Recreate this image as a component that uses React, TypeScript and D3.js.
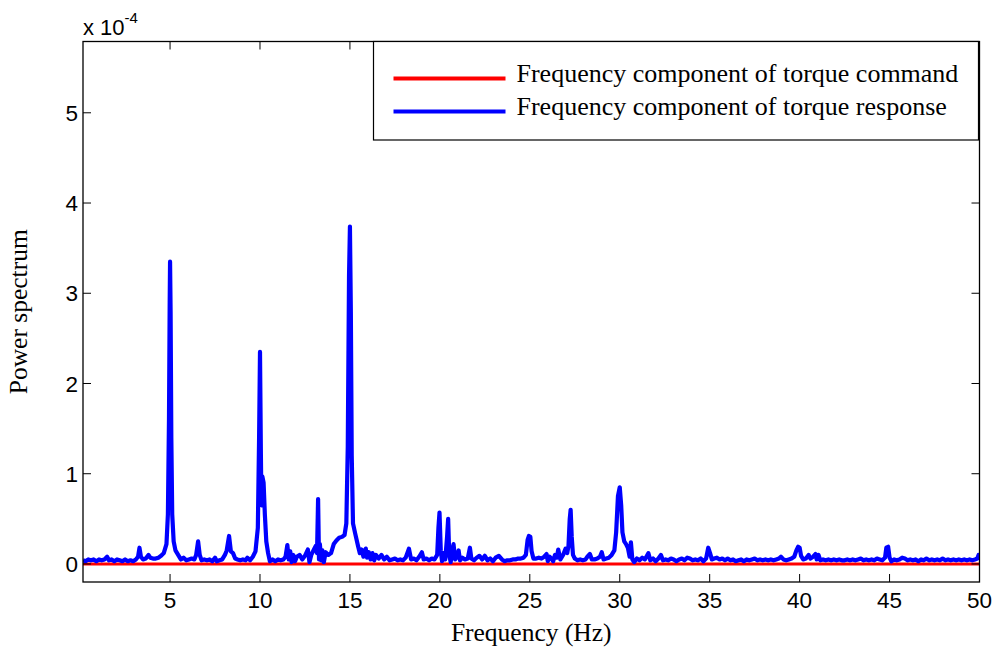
import React from "react";
import * as d3 from "d3";

// Frequency axis (Hz) and power spectrum (units of 1e-4)
const responseFreq: number[] = [
  0.16, 0.3, 0.45, 0.6, 0.75, 0.9, 1.05, 1.2, 1.35, 1.5, 1.6, 1.75, 1.9, 2.05, 2.2, 2.35, 2.5, 2.65, 2.8, 2.95,
  3.1, 3.22, 3.3, 3.38, 3.5, 3.65, 3.8, 3.9, 4.05, 4.2, 4.35, 4.5, 4.65, 4.8, 4.88, 4.94, 4.98, 5.0, 5.03, 5.07,
  5.12, 5.2, 5.3, 5.45, 5.6, 5.75, 5.9, 6.05, 6.2, 6.35, 6.45, 6.56, 6.65, 6.75, 6.9, 7.05, 7.2, 7.35, 7.5, 7.6,
  7.75, 7.9, 8.05, 8.15, 8.28, 8.38, 8.5, 8.62, 8.75, 8.9, 9.05, 9.2, 9.3, 9.45, 9.6, 9.75, 9.88, 9.95, 10.0, 10.05,
  10.08, 10.13, 10.2, 10.27, 10.35, 10.45, 10.55, 10.7, 10.85, 11.0, 11.15, 11.3, 11.42, 11.52, 11.6, 11.68, 11.76, 11.85, 11.95, 12.05,
  12.2, 12.35, 12.5, 12.66, 12.75, 12.85, 13.0, 13.1, 13.17, 13.23, 13.28, 13.33, 13.4, 13.47, 13.55, 13.65, 13.8, 13.95, 14.1, 14.25,
  14.4, 14.55, 14.7, 14.8, 14.88, 14.95, 15.0, 15.05, 15.1, 15.17, 15.3, 15.45, 15.55, 15.65, 15.75, 15.88, 15.95, 16.05, 16.15, 16.25,
  16.35, 16.45, 16.6, 16.75, 16.9, 17.05, 17.2, 17.35, 17.5, 17.65, 17.8, 17.95, 18.1, 18.28, 18.4, 18.55, 18.7, 18.85, 19.0, 19.1,
  19.25, 19.4, 19.55, 19.7, 19.85, 19.92, 19.98, 20.05, 20.12, 20.2, 20.3, 20.4, 20.46, 20.52, 20.6, 20.68, 20.76, 20.85, 20.95, 21.04,
  21.12, 21.25, 21.4, 21.55, 21.67, 21.75, 21.9, 22.05, 22.2, 22.35, 22.5, 22.65, 22.8, 22.95, 23.1, 23.28, 23.45, 23.6, 23.75, 23.9,
  24.05, 24.2, 24.35, 24.5, 24.65, 24.78, 24.88, 24.95, 25.03, 25.1, 25.2, 25.35, 25.5, 25.65, 25.8, 25.93, 26.0, 26.1, 26.2, 26.3,
  26.4, 26.5, 26.58, 26.7, 26.85, 26.99, 27.08, 27.15, 27.22, 27.27, 27.33, 27.4, 27.5, 27.65, 27.8, 27.95, 28.1, 28.2, 28.34, 28.45,
  28.6, 28.75, 28.9, 29.0, 29.1, 29.25, 29.4, 29.55, 29.7, 29.8, 29.9, 30.0, 30.08, 30.15, 30.25, 30.35, 30.45, 30.55, 30.62, 30.7,
  30.8, 30.95, 31.1, 31.25, 31.4, 31.59, 31.7, 31.85, 32.0, 32.15, 32.29, 32.4, 32.55, 32.7, 32.85, 33.0, 33.15, 33.3, 33.45, 33.6,
  33.75, 33.9, 34.05, 34.2, 34.35, 34.5, 34.65, 34.8, 34.92, 35.02, 35.12, 35.25, 35.4, 35.55, 35.7, 35.85, 36.0, 36.15, 36.3, 36.45,
  36.6, 36.75, 36.9, 37.05, 37.2, 37.35, 37.5, 37.65, 37.8, 37.95, 38.1, 38.25, 38.4, 38.55, 38.7, 38.85, 38.96, 39.1, 39.25, 39.4,
  39.55, 39.7, 39.82, 39.92, 40.0, 40.08, 40.2, 40.35, 40.5, 40.6, 40.75, 40.88, 40.95, 41.05, 41.15, 41.3, 41.45, 41.6, 41.75, 41.9,
  42.05, 42.2, 42.35, 42.5, 42.65, 42.8, 42.95, 43.1, 43.25, 43.4, 43.55, 43.7, 43.85, 44.0, 44.15, 44.3, 44.45, 44.6, 44.75, 44.82,
  44.92, 45.0, 45.1, 45.25, 45.4, 45.55, 45.7, 45.85, 46.0, 46.15, 46.3, 46.45, 46.6, 46.75, 46.9, 47.05, 47.2, 47.35, 47.5, 47.65,
  47.8, 47.95, 48.1, 48.25, 48.4, 48.55, 48.7, 48.85, 49.0, 49.15, 49.3, 49.45, 49.6, 49.75, 49.88, 49.95, 50.0,
];

const responsePower: number[] = [
  0.04, 0.03, 0.05, 0.04, 0.05, 0.03, 0.05, 0.04, 0.05, 0.08, 0.04, 0.05, 0.03, 0.05, 0.04, 0.03, 0.05, 0.03, 0.04, 0.03,
  0.05, 0.08, 0.18, 0.08, 0.05, 0.06, 0.1, 0.07, 0.06, 0.06, 0.07, 0.09, 0.12, 0.22, 0.55, 1.6, 2.9, 3.35, 2.8, 1.4,
  0.55, 0.25, 0.15, 0.1, 0.05, 0.07, 0.04, 0.05, 0.06, 0.05, 0.1, 0.25, 0.1, 0.04, 0.05, 0.04, 0.05, 0.03, 0.07, 0.03,
  0.04, 0.05, 0.1, 0.15, 0.31, 0.14, 0.12, 0.06, 0.05, 0.04, 0.05, 0.04, 0.07, 0.04, 0.08, 0.14, 0.4, 1.4, 2.35, 1.2,
  0.65, 0.97, 0.9, 0.55, 0.25, 0.12, 0.03, 0.05, 0.03, 0.05, 0.04, 0.05, 0.08, 0.21, 0.05, 0.14, 0.02, 0.1, 0.03, 0.08,
  0.1, 0.05, 0.09, 0.16, 0.02, 0.1, 0.16, 0.2, 0.12, 0.72, 0.05, 0.22, 0.04, 0.15, 0.02, 0.13, 0.1, 0.12, 0.22, 0.26,
  0.29, 0.3, 0.32, 0.45, 1.3, 3.2, 3.74, 2.8, 1.2, 0.45, 0.33, 0.2, 0.12, 0.16, 0.08, 0.17, 0.07, 0.13, 0.05, 0.12,
  0.04, 0.1, 0.06, 0.1, 0.05, 0.08, 0.04, 0.05, 0.06, 0.04, 0.05, 0.04, 0.07, 0.17, 0.05, 0.06, 0.04, 0.08, 0.13, 0.05,
  0.06, 0.04, 0.06, 0.05, 0.1, 0.4, 0.57, 0.15, 0.03, 0.12, 0.05, 0.3, 0.5, 0.1, 0.02, 0.15, 0.22, 0.05, 0.08, 0.15,
  0.04, 0.07, 0.05, 0.06, 0.18, 0.06, 0.04, 0.07, 0.09, 0.05, 0.09, 0.04, 0.06, 0.03, 0.07, 0.09, 0.05, 0.03, 0.04, 0.04,
  0.05, 0.05, 0.06, 0.06, 0.07, 0.1, 0.27, 0.31, 0.3, 0.14, 0.06, 0.06, 0.07, 0.06, 0.08, 0.11, 0.03, 0.08, 0.06, 0.03,
  0.1, 0.07, 0.16, 0.05, 0.1, 0.17, 0.12, 0.2, 0.5, 0.6, 0.3, 0.1, 0.06, 0.04, 0.05, 0.04, 0.05, 0.08, 0.11, 0.05,
  0.05, 0.06, 0.08, 0.13, 0.05, 0.06, 0.07, 0.1, 0.15, 0.35, 0.75, 0.85, 0.65, 0.35, 0.25, 0.22, 0.18, 0.08, 0.24, 0.05,
  0.02, 0.06, 0.04, 0.07, 0.05, 0.12, 0.04, 0.06, 0.03, 0.06, 0.1, 0.04, 0.05, 0.04, 0.06, 0.05, 0.03, 0.05, 0.06, 0.04,
  0.07, 0.06, 0.04, 0.05, 0.04, 0.06, 0.03, 0.06, 0.18, 0.12, 0.05, 0.06, 0.07, 0.05, 0.06, 0.04, 0.06, 0.04, 0.05, 0.03,
  0.04, 0.05, 0.03, 0.05, 0.04, 0.05, 0.06, 0.04, 0.05, 0.04, 0.05, 0.04, 0.05, 0.04, 0.05, 0.06, 0.08, 0.05, 0.04, 0.05,
  0.06, 0.08, 0.15, 0.19, 0.18, 0.09, 0.05, 0.06, 0.1, 0.06, 0.08, 0.11, 0.05, 0.1, 0.04, 0.05, 0.04, 0.05, 0.04, 0.05,
  0.04, 0.05, 0.04, 0.04, 0.05, 0.04, 0.05, 0.04, 0.05, 0.06, 0.04, 0.05, 0.04, 0.05, 0.04, 0.06, 0.05, 0.04, 0.07, 0.18,
  0.19, 0.07, 0.03, 0.05, 0.04, 0.05, 0.07, 0.06, 0.04, 0.05, 0.04, 0.05, 0.03, 0.05, 0.04, 0.06, 0.04, 0.05, 0.04, 0.05,
  0.04, 0.06, 0.04, 0.05, 0.04, 0.05, 0.04, 0.05, 0.04, 0.05, 0.04, 0.05, 0.04, 0.05, 0.06, 0.1, 0.08,
];

const commandFreq: number[] = [0.16, 50];
const commandPower: number[] = [0, 0];

const xTicks: number[] = [5, 10, 15, 20, 25, 30, 35, 40, 45, 50];
const yTicks: number[] = [0, 1, 2, 3, 4, 5];

const legendLabels: string[] = [
  "Frequency component of torque command",
  "Frequency component of torque response",
];
const seriesColors: string[] = ["#ff0000", "#0000ff"];

const W = 996;
const H = 651;
const M = { left: 83, top: 41.5, right: 979.5, bottom: 582 };

export default function App() {
  const x = d3.scaleLinear().domain([0.16, 50]).range([M.left, M.right]);
  const y = d3.scaleLinear().domain([-0.2, 5.79]).range([M.bottom, M.top]);

  const line = d3
    .line<[number, number]>()
    .x((d) => x(d[0]))
    .y((d) => y(d[1]))
    .curve(d3.curveLinear);

  const resp = responseFreq.map((f, i) => [f, responsePower[i]] as [number, number]);
  const cmd = commandFreq.map((f, i) => [f, commandPower[i]] as [number, number]);

  const sans = "'Liberation Sans', Arial, Helvetica, sans-serif";
  const serif = "'Liberation Serif', 'Times New Roman', Times, serif";
  const tickLen = 8;

  const legX = 373.5;
  const legY = 41.5;
  const legW = 605;
  const legH = 98.5;

  return (
    <svg
      width={W}
      height={H}
      style={{ position: "absolute", left: 0, top: 0, background: "#fff" }}
    >
      <defs>
        <clipPath id="plotClip">
          <rect x={M.left} y={M.top} width={M.right - M.left} height={M.bottom - M.top} />
        </clipPath>
      </defs>
      <rect x={0} y={0} width={W} height={H} fill="#fff" />

      <g clipPath="url(#plotClip)">
        <path d={line(cmd) || ""} fill="none" stroke={seriesColors[0]} strokeWidth={3} />
        <path
          d={line(resp) || ""}
          fill="none"
          stroke={seriesColors[1]}
          strokeWidth={4.2}
          strokeLinejoin="round"
        />
      </g>

      {/* axes box */}
      <rect
        x={M.left}
        y={M.top}
        width={M.right - M.left}
        height={M.bottom - M.top}
        fill="none"
        stroke="#000"
        strokeWidth={1.3}
      />

      {/* x ticks */}
      {xTicks.map((t) => (
        <g key={"x" + t}>
          <line x1={x(t)} x2={x(t)} y1={M.bottom} y2={M.bottom - tickLen} stroke="#000" strokeWidth={1} />
          <line x1={x(t)} x2={x(t)} y1={M.top} y2={M.top + tickLen} stroke="#000" strokeWidth={1} />
          <text
            x={x(t)}
            y={M.bottom + 26}
            textAnchor="middle"
            fontFamily={sans}
            fontSize={22.5}
            fill="#000"
          >
            {t}
          </text>
        </g>
      ))}

      {/* y ticks */}
      {yTicks.map((t) => (
        <g key={"y" + t}>
          <line x1={M.left} x2={M.left + tickLen} y1={y(t)} y2={y(t)} stroke="#000" strokeWidth={1} />
          <line x1={M.right} x2={M.right - tickLen} y1={y(t)} y2={y(t)} stroke="#000" strokeWidth={1} />
          <text
            x={M.left - 5}
            y={y(t)}
            dy="0.36em"
            textAnchor="end"
            fontFamily={sans}
            fontSize={22.5}
            fill="#000"
          >
            {t}
          </text>
        </g>
      ))}

      {/* exponent */}
      <text x={M.left} y={35} fontFamily={sans} fontSize={22} fill="#000">
        x 10
        <tspan dy={-12} fontSize={15}>
          -4
        </tspan>
      </text>

      {/* axis labels */}
      <text
        x={(M.left + M.right) / 2}
        y={641}
        textAnchor="middle"
        fontFamily={serif}
        fontSize={25.5}
        fill="#000"
      >
        Frequency (Hz)
      </text>
      <text
        transform={`translate(27, ${(M.top + M.bottom) / 2}) rotate(-90)`}
        textAnchor="middle"
        fontFamily={serif}
        fontSize={25.5}
        fill="#000"
      >
        Power spectrum
      </text>

      {/* legend */}
      <rect x={legX} y={legY} width={legW} height={legH} fill="#fff" stroke="#000" strokeWidth={1.2} />
      {legendLabels.map((lab, i) => (
        <g key={lab}>
          <line
            x1={legX + 20}
            x2={legX + 132}
            y1={legY + 37 + i * 33}
            y2={legY + 37 + i * 33}
            stroke={seriesColors[i]}
            strokeWidth={4}
          />
          <text
            x={legX + 143}
            y={legY + 40 + i * 33}
            fontFamily={serif}
            fontSize={26}
            fill="#000"
          >
            {lab}
          </text>
        </g>
      ))}
    </svg>
  );
}
